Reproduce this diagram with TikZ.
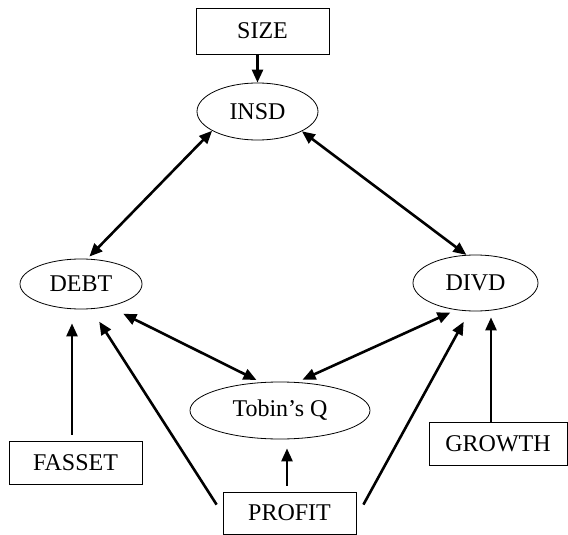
\documentclass[tikz,border=0pt]{standalone}
\usepackage{fontspec}
\setmainfont{Liberation Serif}
\usetikzlibrary{arrows.meta,shapes.geometric,calc}
\begin{document}
\begin{tikzpicture}[x=1pt,y=-1pt,
  every node/.style={font=\fontsize{24}{28}\selectfont, inner sep=0pt},
  boxnode/.style={draw, line width=0.8pt, rectangle},
  ellnode/.style={draw, line width=0.8pt, ellipse},
  conn/.style={line width=2.6pt, -{Triangle[length=13pt,width=11pt]}},
  biconn/.style={line width=2.6pt, {Triangle[length=13pt,width=11pt]}-{Triangle[length=13pt,width=11pt]}}]
\useasboundingbox (0,0) rectangle (568,535);
% nodes
\node[boxnode, minimum width=133pt, minimum height=46pt] (size) at (262.5,31) {SIZE};
\node[ellnode, minimum width=121pt, minimum height=57pt] (insd) at (257.5,111.5) {INSD};
\node[ellnode, minimum width=122pt, minimum height=50pt] (debt) at (81,284) {DEBT};
\node[ellnode, minimum width=125pt, minimum height=56pt] (divd) at (475.5,283) {DIVD};
\node[ellnode, minimum width=180pt, minimum height=57pt] (tobin) at (280,410.5) {Tobin’s Q};
\node[boxnode, minimum width=133pt, minimum height=43pt] (fasset) at (75.5,462.5) {FASSET};
\node[boxnode, minimum width=138pt, minimum height=43pt] (growth) at (498,443.5) {GROWTH};
\node[boxnode, minimum width=133pt, minimum height=42pt] (profit) at (289.5,513) {PROFIT};
% connectors
\draw[conn] (size.south -| insd.north) -- (insd.north);
\draw[biconn, shorten >=3pt] (insd.203) -- (debt.76);
\draw[biconn] (insd.336) -- (divd.108);
\draw[biconn, shorten <=16pt, shorten >=5pt] (debt.321) -- (tobin.124);
\draw[biconn, shorten <=6pt, shorten >=6pt] (divd.234) -- (tobin.59);
\draw[conn, shorten <=6pt, shorten >=14pt] ([xshift=-3.5pt]fasset.north) -- ([xshift=-3.5pt]fasset.north |- debt.south);
\draw[conn, shorten >=15pt] ($(profit.north west)+(-6,13)$) -- (debt.292);
\draw[conn, shorten <=6pt, shorten >=9pt] ([xshift=-2.5pt]profit.north) -- ([xshift=-2.5pt]profit.north |- tobin.south);
\draw[conn, shorten >=12pt] ($(profit.north east)+(7,13)$) -- (divd.258);
\draw[conn, shorten >=6pt] ([xshift=-7pt]growth.north) -- ([xshift=-7pt]growth.north |- divd.south);
\end{tikzpicture}
\end{document}
